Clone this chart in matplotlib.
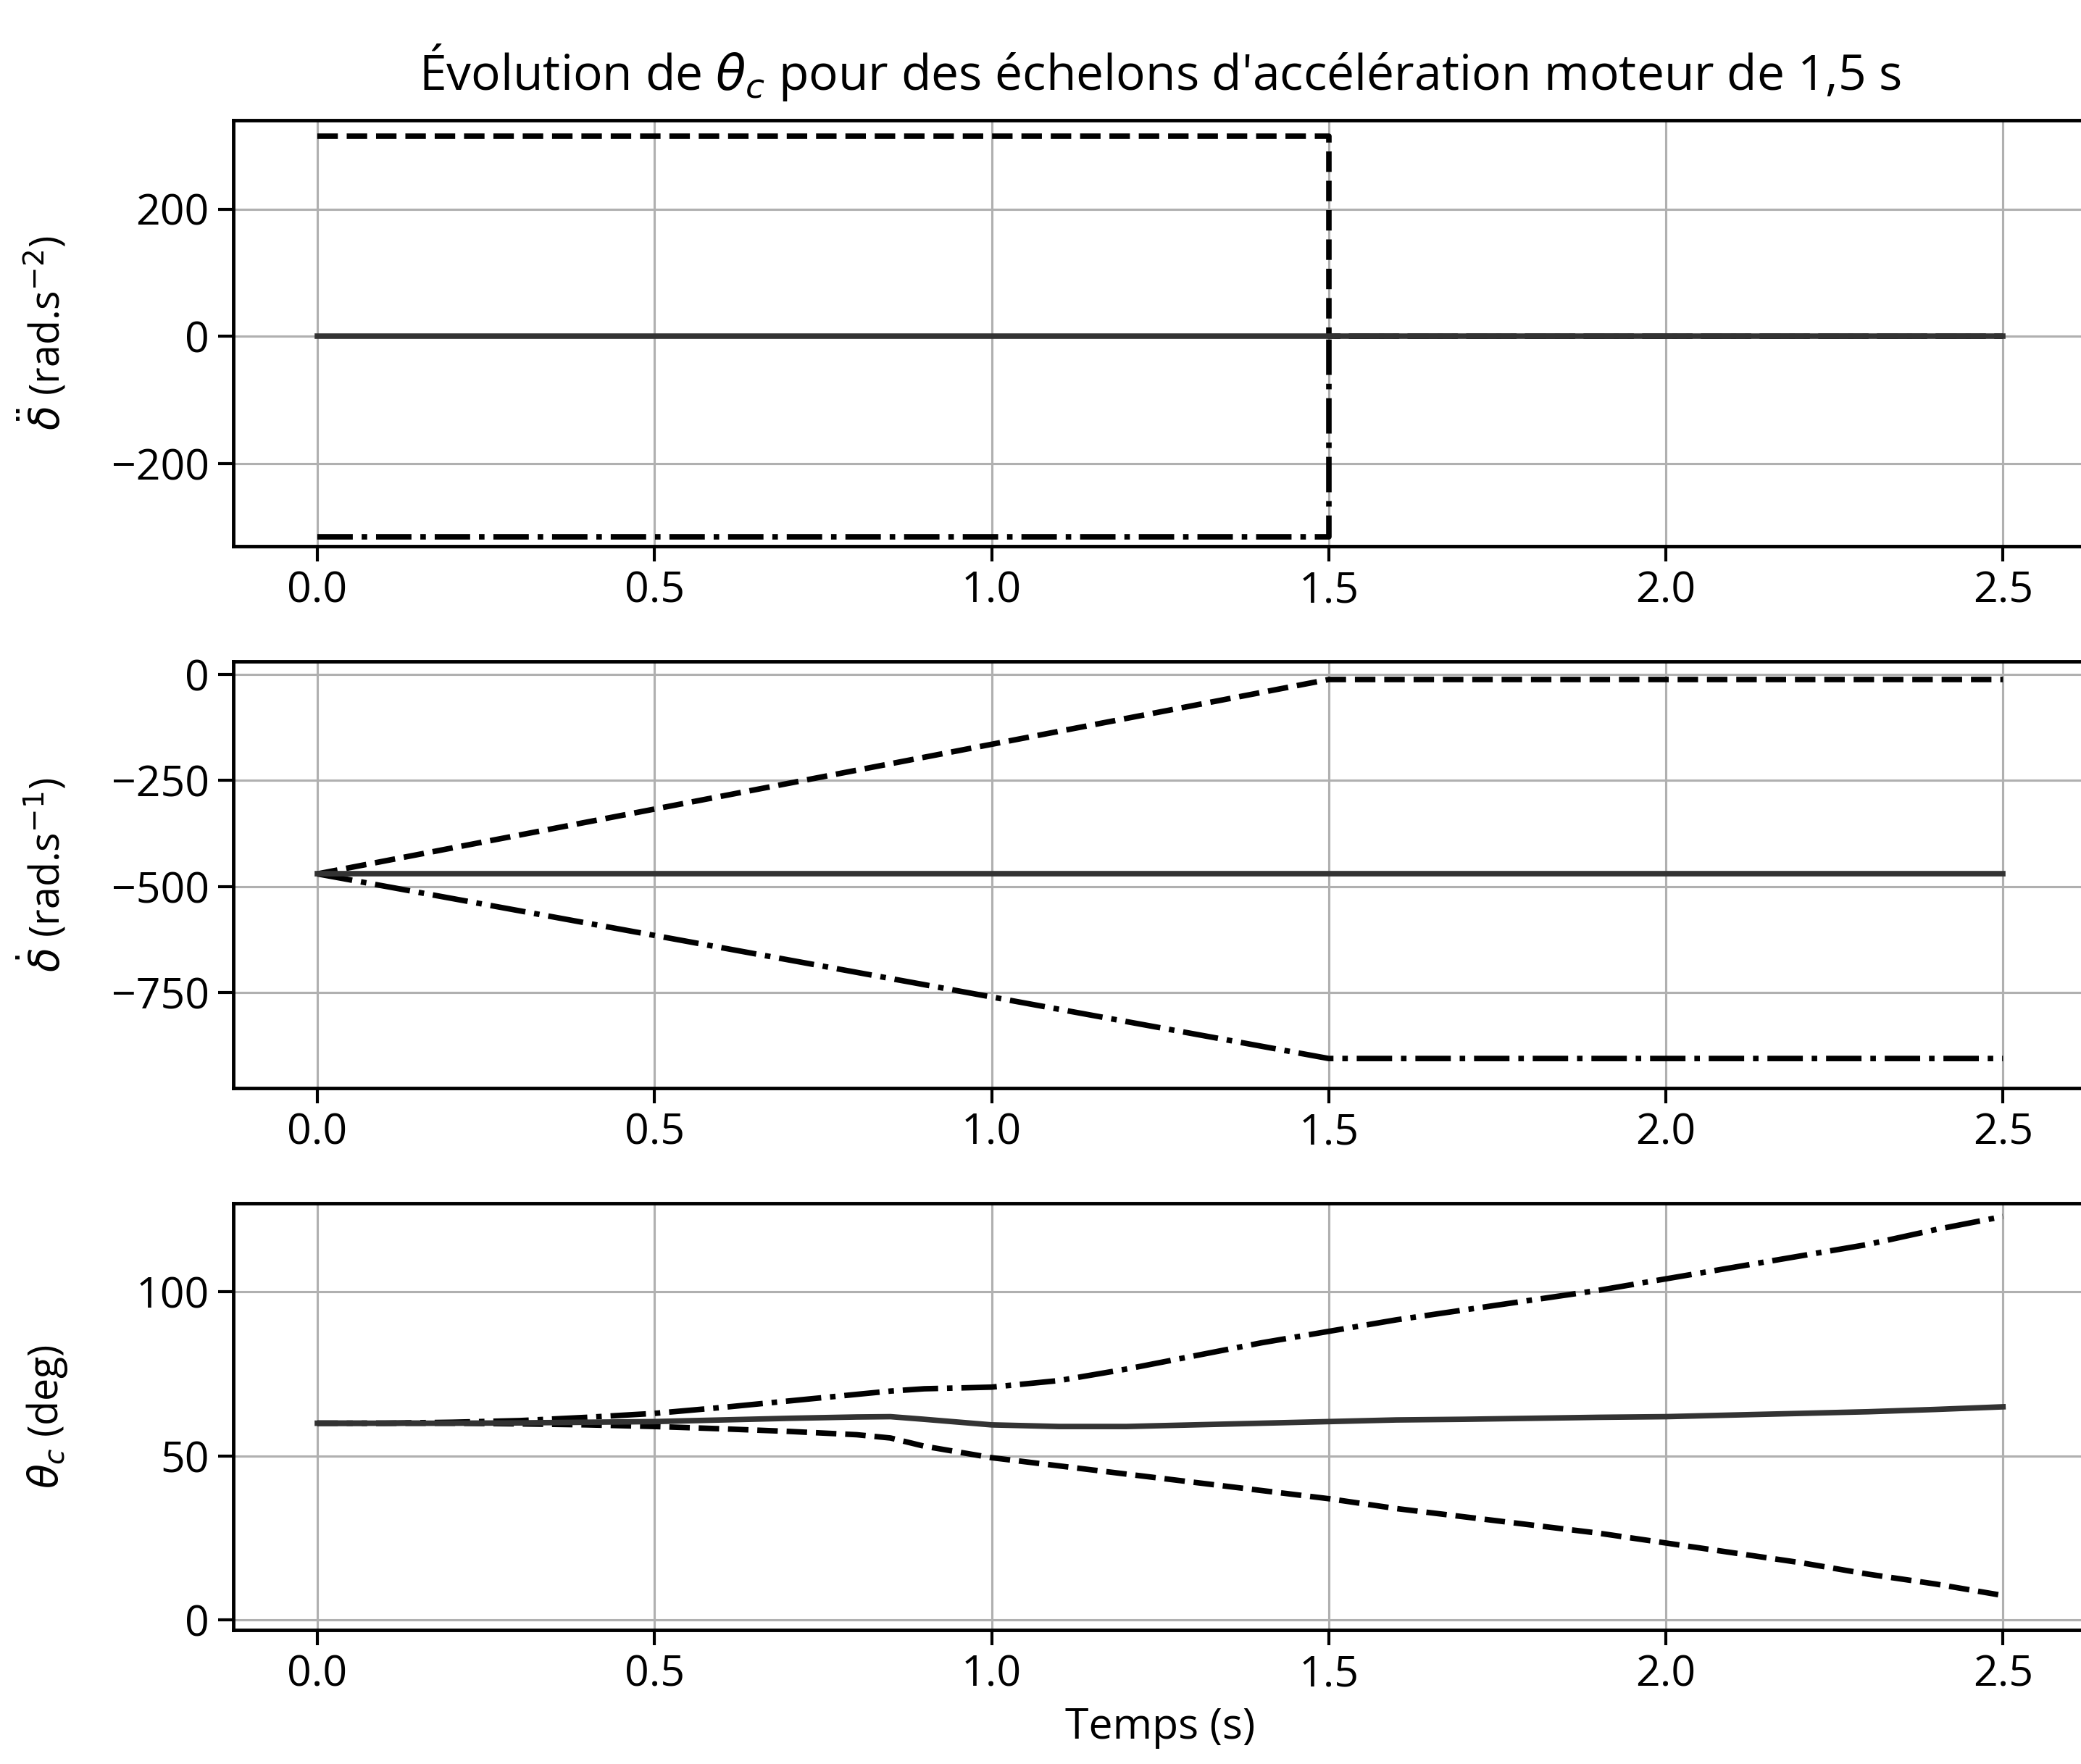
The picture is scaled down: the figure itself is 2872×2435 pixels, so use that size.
import matplotlib
matplotlib.use('Agg')
import matplotlib.pyplot as plt

plt.rcParams['font.family'] = ['Open Sans', 'DejaVu Sans']
plt.rcParams['mathtext.fontset'] = 'dejavusans'
plt.rcParams['font.size'] = 17

# acceleration steps (rad.s-2), step ends at 1.5 s
t_acc = [0.0, 1.5, 1.5, 2.5]
acc_plus = [315, 315, 0, 0]
acc_minus = [-315, -315, 0, 0]
acc_zero = [0, 0, 0, 0]

# angular velocity (rad.s-1)
t_vit = [0.0, 1.5, 2.5]
vit_plus = [-470, -12, -12]
vit_minus = [-470, -905, -905]
vit_zero = [-470, -470, -470]

# theta_c (deg)
t_theta = [0.0, 0.1, 0.2, 0.3, 0.4, 0.5, 0.6, 0.7, 0.8, 0.85, 0.9, 1.0, 1.1, 1.2, 1.3,
           1.4, 1.5, 1.6, 1.7, 1.8, 1.9, 2.0, 2.1, 2.2, 2.3, 2.4, 2.5]
theta_plus = [60, 60, 60, 59.8, 59.5, 59, 58.3, 57.5, 56.5, 55.5, 53, 49.5, 47, 44.5, 42,
              39.5, 37, 34, 31.5, 29, 26.5, 23.5, 20.5, 17.5, 14, 11, 7.5]
theta_minus = [60, 60, 60.3, 60.8, 61.8, 63, 64.8, 66.8, 68.8, 69.8, 70.5, 71, 73, 76.5, 80.5,
               84.5, 88, 91.5, 94.5, 97.5, 100.5, 104, 107.5, 111, 114.5, 119, 123]
theta_zero = [60, 60, 60, 60.1, 60.3, 60.5, 61, 61.5, 61.9, 62, 61.2, 59.5, 59, 59, 59.5,
              60, 60.5, 61, 61.2, 61.5, 61.8, 62, 62.5, 63, 63.5, 64.2, 65]

fig, axs = plt.subplots(3, 1, figsize=(11.488, 9.74), dpi=250)
plt.subplots_adjust(left=0.112, right=1.003, top=0.932, bottom=0.076, hspace=0.27)

lw = 2.2
ax = axs[0]
ax.plot(t_acc, acc_plus, 'k--', lw=lw)
ax.plot(t_acc, acc_minus, 'k-.', lw=lw)
ax.plot(t_acc, acc_zero, color='#333333', lw=lw)
ax.set_ylim(-330, 340)
ax.set_yticks([-200, 0, 200])
ax.set_ylabel(r'$\ddot{\delta}$ (rad.s$^{-2}$)', fontsize=16)
ax.set_title(r"Évolution de $\theta_c$ pour des échelons d'accélération moteur de 1,5 s",
             fontsize=19.5, pad=12)

ax = axs[1]
ax.plot(t_vit, vit_plus, 'k--', lw=lw)
ax.plot(t_vit, vit_minus, 'k-.', lw=lw)
ax.plot(t_vit, vit_zero, color='#333333', lw=lw)
ax.set_ylim(-975, 30)
ax.set_yticks([-750, -500, -250, 0])
ax.set_ylabel(r'$\dot{\delta}$ (rad.s$^{-1}$)', fontsize=16)

ax = axs[2]
ax.plot(t_theta, theta_plus, 'k--', lw=lw)
ax.plot(t_theta, theta_minus, 'k-.', lw=lw)
ax.plot(t_theta, theta_zero, color='#333333', lw=lw)
ax.set_ylim(-3, 127)
ax.set_yticks([0, 50, 100])
ax.set_ylabel(r'$\theta_c$ (deg)', fontsize=16)
ax.set_xlabel('Temps (s)')

for ax in axs:
    ax.set_xlim(-0.125, 2.625)
    ax.set_xticks([0.0, 0.5, 1.0, 1.5, 2.0, 2.5])
    ax.grid(True, color='#b0b0b0', lw=0.9)
    ax.tick_params(width=1.2, length=6)
    ax.yaxis.set_label_coords(-0.088, 0.5)
    for s in ax.spines.values():
        s.set_linewidth(1.4)

plt.savefig('out.png')
